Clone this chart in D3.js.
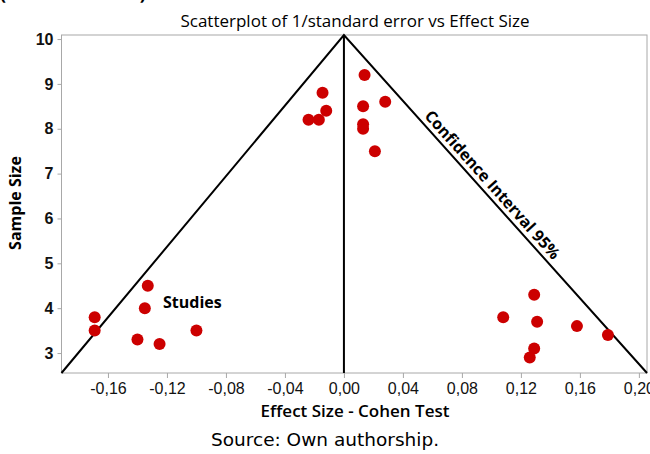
<!DOCTYPE html>
<meta charset="utf-8">
<style>
body { margin: 0; background: #fff; }
svg { display: block; font-family: 'Open Sans', sans-serif; }
.axis .domain { display: none; }
.axis line { stroke: #a8a8a8; }
.axis text { fill: #111; font-size: 16px; }
.axis.y text { font-weight: 600; }
</style>
<body>
<script src="https://cdnjs.cloudflare.com/ajax/libs/d3/7.8.5/d3.min.js"></script>
<script>
var width = 650
var height = 454

// effect size (Cohen) and 1/standard error of each study
var effectSize = [0.014, -0.0145, 0.028, 0.013, -0.012, -0.024, -0.017, 0.013, 0.013, 0.021,
    -0.133, -0.135, -0.169, -0.169, -0.14, -0.125, -0.10,
    0.129, 0.108, 0.131, 0.158, 0.179, 0.129, 0.126]
var sampleSize = [9.2, 8.8, 8.6, 8.5, 8.4, 8.2, 8.2, 8.1, 8.0, 7.5,
    4.5, 4.0, 3.8, 3.5, 3.3, 3.2, 3.5,
    4.3, 3.8, 3.7, 3.6, 3.4, 3.1, 2.9]

// 95% confidence funnel
var funnelX = [-0.1915, 0, 0.2055]
var funnelY = [2.555, 10.09, 2.555]

var xTicks = [-0.16, -0.12, -0.08, -0.04, 0, 0.04, 0.08, 0.12, 0.16, 0.20]
var xTickLabels = ['-0,16', '-0,12', '-0,08', '-0,04', '0,00', '0,04', '0,08', '0,12', '0,16', '0,20']
var yTicks = [3, 4, 5, 6, 7, 8, 9, 10]

var x = d3.scaleLinear().domain([-0.1915, 0.2055]).range([61.5, 647])
var y = d3.scaleLinear().domain([2.555, 10.09]).range([373, 35])

var svg = d3.select('body').append('svg')
    .attr('width', width)
    .attr('height', height)

// cut-off caption line from the page above
svg.append('text')
    .attr('x', 0).attr('y', 0)
    .style('font-size', '18px').style('font-weight', 700)
    .text('(Continuation 2)')

svg.append('g')
    .attr('class', 'x axis')
    .attr('transform', 'translate(0,' + y.range()[0] + ')')
    .call(d3.axisBottom(x).tickValues(xTicks).tickSize(5).tickPadding(5)
        .tickFormat(function (d, i) { return xTickLabels[i] }))

svg.append('g')
    .attr('class', 'y axis')
    .attr('transform', 'translate(' + x.range()[0] + ',0)')
    .call(d3.axisLeft(y).tickValues(yTicks).tickSize(4).tickPadding(4))

svg.append('rect')
    .attr('x', x.range()[0]).attr('y', y.range()[1])
    .attr('width', x.range()[1] - x.range()[0])
    .attr('height', y.range()[0] - y.range()[1])
    .attr('fill', 'none')
    .attr('stroke', '#a8a8a8')

// zero line
svg.append('line')
    .attr('x1', x(0)).attr('x2', x(0))
    .attr('y1', y.range()[0]).attr('y2', y.range()[1])
    .attr('stroke', '#000').attr('stroke-width', 2)

var funnel = d3.range(funnelX.length).map(function (i) { return [funnelX[i], funnelY[i]] })

svg.append('path')
    .datum(funnel)
    .attr('fill', 'none')
    .attr('stroke', '#000')
    .attr('stroke-width', 2)
    .attr('d', d3.line().x(function (d) { return x(d[0]) }).y(function (d) { return y(d[1]) }))

svg.selectAll('.study')
    .data(d3.range(effectSize.length))
    .enter().append('circle')
    .attr('class', 'study')
    .attr('cx', function (i) { return x(effectSize[i]) })
    .attr('cy', function (i) { return y(sampleSize[i]) })
    .attr('r', 6)
    .attr('fill', '#cc0000')

// label along the right side of the funnel
var ax = x(funnelX[1]), ay = y(funnelY[1])
var bx = x(funnelX[2]), by = y(funnelY[2])
var angle = Math.atan2(by - ay, bx - ax) * 180 / Math.PI
var t = 0.464
svg.append('text')
    .attr('transform', 'translate(' + (ax + (bx - ax) * t) + ',' + (ay + (by - ay) * t) + ') rotate(' + angle + ')')
    .attr('text-anchor', 'middle')
    .attr('dy', -5)
    .style('font-size', '16px').style('font-weight', 700)
    .text('Confidence Interval 95%')

svg.append('text')
    .attr('x', 163).attr('y', 308)
    .style('font-size', '16px').style('font-weight', 700)
    .text('Studies')

svg.append('text')
    .attr('x', 355).attr('y', 27)
    .attr('text-anchor', 'middle')
    .style('font-size', '17px')
    .text('Scatterplot of 1/standard error vs Effect Size')

svg.append('text')
    .attr('x', 355).attr('y', 417)
    .attr('text-anchor', 'middle')
    .style('font-size', '17px').style('font-weight', 600)
    .text('Effect Size - Cohen Test')

svg.append('text')
    .attr('transform', 'translate(21,203) rotate(-90)')
    .attr('text-anchor', 'middle')
    .style('font-size', '16px').style('font-weight', 700)
    .text('Sample Size')

svg.append('text')
    .attr('x', 325).attr('y', 446)
    .attr('text-anchor', 'middle')
    .style('font-family', "'DejaVu Sans', sans-serif")
    .style('font-size', '18.5px')
    .text('Source: Own authorship.')
</script>
</body>
